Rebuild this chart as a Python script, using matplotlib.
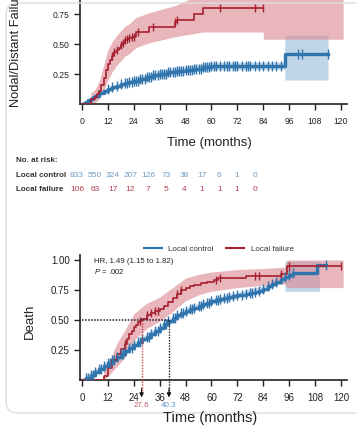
import numpy as np
import matplotlib
matplotlib.use("Agg")
from matplotlib import pyplot as plt
from matplotlib.patches import FancyBboxPatch

plt.rcParams['font.family'] = ['Liberation Sans', 'DejaVu Sans']
plt.rcParams['mathtext.fontset'] = 'custom'
plt.rcParams['mathtext.it'] = 'Liberation Sans:italic'
plt.rcParams['mathtext.rm'] = 'Liberation Sans'

BLUE = '#3175ae'
RED = '#a51f30'
BLUE_BAND = '#9ebfdb'
RED_BAND = '#dc8f97'

# ---- top panel: nodal / distant failure ----
lc_nd_t = [0, 1, 2, 3, 4, 5, 6, 8, 10, 12, 14, 16, 18, 20, 22, 24, 27, 30, 33, 36,
           40, 44, 48, 52, 56, 60, 94, 114]
lc_nd_v = [0, 0.01, 0.02, 0.03, 0.045, 0.06, 0.07, 0.09, 0.11, 0.125, 0.14, 0.15, 0.165,
           0.175, 0.185, 0.195, 0.21, 0.225, 0.24, 0.25, 0.265, 0.275, 0.285, 0.295,
           0.305, 0.315, 0.415, 0.415]
lc_nd_ci_t = [0, 6, 12, 24, 36, 48, 60, 94, 94, 114]
lc_nd_lo = [0, 0.055, 0.105, 0.175, 0.225, 0.26, 0.285, 0.29, 0.20, 0.20]
lc_nd_hi = [0.01, 0.085, 0.145, 0.215, 0.275, 0.31, 0.345, 0.35, 0.57, 0.57]
lc_nd_cens = [12, 14, 16, 18, 20, 21, 22, 23, 24, 25, 26, 27, 28, 29, 30, 31, 32, 33, 34,
              35, 36, 37, 38, 39, 40, 41, 42, 43, 44, 45, 46, 47, 48, 49, 50, 51, 52, 53,
              54, 55, 56, 57, 58, 59, 60, 61, 62, 64, 66, 67, 68, 70, 71, 72, 74, 76, 77,
              78, 80, 82, 84, 86, 88, 90, 92, 100, 102, 114]

lf_nd_t = [0, 4, 6, 7, 8, 9, 10, 11, 12, 13, 14, 15, 16, 17, 18, 19, 20, 21, 22, 23, 25,
           31, 43, 44, 52, 56, 84]
lf_nd_v = [0, 0.04, 0.06, 0.08, 0.11, 0.16, 0.22, 0.28, 0.33, 0.37, 0.40, 0.43, 0.45,
           0.47, 0.49, 0.51, 0.53, 0.54, 0.55, 0.56, 0.60, 0.64, 0.68, 0.70, 0.75, 0.80, 0.80]
lf_nd_ci_t = [4, 6, 8, 10, 12, 14, 16, 18, 20, 22, 25, 31, 43, 56, 84, 84, 121]
lf_nd_lo = [0, 0.01, 0.04, 0.11, 0.2, 0.27, 0.32, 0.36, 0.40, 0.42, 0.47, 0.51, 0.56,
            0.60, 0.60, 0.54, 0.54]
lf_nd_hi = [0.09, 0.12, 0.19, 0.32, 0.45, 0.52, 0.57, 0.61, 0.65, 0.67, 0.72, 0.76, 0.82,
            0.92, 0.95, 0.95, 0.95]
lf_nd_cens = [14, 15, 16, 18, 19, 20, 21, 22, 23, 24, 26, 33, 43, 44, 64, 80, 84]

# ---- bottom panel: death ----
lc_d_t = [0, 2, 4, 6, 8, 10, 12, 14, 16, 18, 20, 22, 24, 26, 28, 30, 32, 34, 36, 38, 40,
          42, 44, 46, 48, 50, 52, 54, 56, 58, 60, 62, 64, 66, 68, 70, 72, 74, 76, 78, 80,
          82, 84, 86, 88, 90, 92, 94, 96, 98, 109, 113]
lc_d_v = [0, 0.02, 0.045, 0.07, 0.095, 0.12, 0.145, 0.17, 0.195, 0.22, 0.245, 0.27, 0.29,
          0.315, 0.34, 0.36, 0.385, 0.41, 0.43, 0.465, 0.495, 0.52, 0.54, 0.56, 0.575,
          0.59, 0.60, 0.615, 0.63, 0.645, 0.655, 0.665, 0.675, 0.685, 0.69, 0.70, 0.705,
          0.71, 0.715, 0.725, 0.735, 0.745, 0.76, 0.78, 0.80, 0.82, 0.84, 0.86, 0.875,
          0.89, 0.96, 0.96]
lc_d_ci_t = [0, 12, 24, 36, 48, 60, 72, 84, 94, 94, 110]
lc_d_lo = [0, 0.125, 0.265, 0.405, 0.55, 0.63, 0.68, 0.735, 0.83, 0.74, 0.74]
lc_d_hi = [0.01, 0.165, 0.315, 0.455, 0.60, 0.68, 0.73, 0.785, 0.89, 0.99, 0.99]
lc_d_cens = [2, 3, 4, 5, 6, 8, 9, 10, 12, 13, 14, 15, 16, 18, 19, 20, 22, 23, 24, 26, 27,
             28, 30, 31, 32, 34, 35, 36, 38, 39, 40, 42, 43, 44, 46, 47, 48, 50, 51, 52,
             54, 55, 56, 58, 59, 60, 62, 63, 64, 66, 67, 68, 70, 72, 74, 76, 78, 79, 80,
             82, 84, 86, 88, 90, 92, 94, 96, 98, 113]

lf_d_t = [0, 10, 12, 14, 16, 18, 20, 21, 22, 23, 24, 25, 26, 27, 28, 30, 32, 34, 36, 38,
          40, 42, 44, 46, 48, 50, 52, 55, 58, 61, 63, 76, 92, 95, 120]
lf_d_v = [0, 0.03, 0.10, 0.17, 0.22, 0.26, 0.30, 0.34, 0.38, 0.41, 0.44, 0.46, 0.48, 0.49,
          0.51, 0.54, 0.56, 0.575, 0.59, 0.62, 0.65, 0.68, 0.72, 0.75, 0.77, 0.78, 0.79,
          0.81, 0.82, 0.835, 0.85, 0.865, 0.88, 0.95, 0.95]
lf_d_ci_t = [10, 13, 16, 20, 24, 30, 36, 42, 48, 54, 60, 72, 84, 94, 95, 121]
lf_d_lo = [0, 0.05, 0.11, 0.19, 0.33, 0.43, 0.49, 0.57, 0.66, 0.71, 0.74, 0.77, 0.79,
           0.80, 0.77, 0.77]
lf_d_hi = [0.08, 0.17, 0.30, 0.42, 0.55, 0.64, 0.69, 0.77, 0.85, 0.88, 0.90, 0.92, 0.93,
           0.94, 1.0, 1.0]
lf_d_cens = [20, 27, 30, 32, 34, 35, 44, 46, 62, 64, 80, 82, 92, 96, 120]

months = list(range(0, 121, 12))
at_risk_lc = [833, 550, 324, 207, 126, 73, 38, 17, 6, 1, 0]
at_risk_lf = [106, 63, 17, 12, 7, 5, 4, 1, 1, 1, 0]
median_lf = 27.6
median_lc = 40.3

W, H = 356, 426
fig = plt.figure(figsize=(W / 100, H / 100), dpi=100)


def step_at(t, v, x):
    idx = np.searchsorted(t, x, side='right') - 1
    return np.asarray(v)[np.clip(idx, 0, len(v) - 1)]


def km(ax, t, v, ci_t, lo, hi, cens, color, band, ms, lw):
    ax.fill_between(ci_t, lo, hi, color=band, alpha=0.65, lw=0, zorder=1)
    ax.step(t, v, where='post', color=color, lw=lw, zorder=3)
    ax.plot(cens, step_at(t, v, cens), ls='none', marker='|', ms=ms, mew=1.0,
            color=color, zorder=4)


def style(ax, labelsize):
    for s in ['top', 'right']:
        ax.spines[s].set_visible(False)
    for s in ['left', 'bottom']:
        ax.spines[s].set_linewidth(1.2)
        ax.spines[s].set_color('#222222')
    ax.tick_params(direction='out', length=4.5, width=1, labelsize=labelsize, pad=5,
                   colors='#222222')
    ax.tick_params(axis='y', pad=3)
    ax.set_xticks(months)
    ax.set_xlim(-0.93, 122.8)


# top axes
ax1 = fig.add_axes([80 / W, 1 - 104 / H, 267 / W, 104 / H])
km(ax1, lc_nd_t, lc_nd_v, lc_nd_ci_t, lc_nd_lo, lc_nd_hi, lc_nd_cens, BLUE, BLUE_BAND, 7, 2.4)
km(ax1, lf_nd_t, lf_nd_v, lf_nd_ci_t, lf_nd_lo, lf_nd_hi, lf_nd_cens, RED, RED_BAND, 6, 1.2)
ax1.set_ylim(0, 104 / 120)
ax1.set_yticks([0.25, 0.5, 0.75])
ax1.set_yticklabels(['0.25', '0.50', '0.75'])
style(ax1, 6.2)

fig.text(16 / W, 1 - 107 / H, 'Nodal/Distant Failure', rotation=90, rotation_mode='anchor',
         ha='left', va='center', fontsize=9.3, color='#222222')
fig.text(209 / W, 1 - 143 / H, 'Time (months)', ha='center', va='center', fontsize=9.5,
         color='#222222')

# at-risk table
fig.text(16 / W, 1 - 160 / H, 'No. at risk:', fontsize=5.8, fontweight='bold',
         color='#333333', va='center')
fig.text(16 / W, 1 - 175 / H, 'Local control', fontsize=5.8, fontweight='bold',
         color='#333333', va='center')
fig.text(16 / W, 1 - 189 / H, 'Local failure', fontsize=5.8, fontweight='bold',
         color='#333333', va='center')
for i, (a, b) in enumerate(zip(at_risk_lc, at_risk_lf)):
    x = (77 + i * 17.8) / W
    fig.text(x, 1 - 175 / H, str(a), fontsize=6, color='#6f9cc4', ha='center', va='center')
    fig.text(x, 1 - 189 / H, str(b), fontsize=6, color='#b04050', ha='center', va='center')

# bottom axes
ax2 = fig.add_axes([80 / W, 1 - 380 / H, 267 / W, 125 / H])
km(ax2, lc_d_t, lc_d_v, lc_d_ci_t, lc_d_lo, lc_d_hi, lc_d_cens, BLUE, BLUE_BAND, 7, 2.4)
km(ax2, lf_d_t, lf_d_v, lf_d_ci_t, lf_d_lo, lf_d_hi, lf_d_cens, RED, RED_BAND, 6, 1.2)
ax2.set_ylim(0, 125 / 120)
ax2.set_yticks([0.25, 0.5, 0.75, 1.0])
ax2.set_yticklabels(['0.25', '0.50', '0.75', '1.00'])
style(ax2, 7)

ax2.plot([], [], color=BLUE, lw=1.5, label='Local control')
ax2.plot([], [], color=RED, lw=1.5, label='Local failure')
h, l = ax2.get_legend_handles_labels()
ax2.legend(h[-2:], l[-2:], loc='lower center', bbox_to_anchor=(0.52, 0.99), ncol=2,
           frameon=False, fontsize=5.8, handlelength=2.2, columnspacing=1.6,
           borderaxespad=0, labelcolor='#333333')

ax2.text(5.5, 0.985, 'HR, 1.49 (1.15 to 1.82)', fontsize=5.6, va='center', color='#222222')
ax2.text(5.5, 0.905, '$P$ = .002', fontsize=5.6, va='center', color='#222222')

# medians
ax2.plot([0, median_lc], [0.5, 0.5], ls=(0, (1, 1)), color='#1a1a2e', lw=1.1, zorder=5)
ax2.plot([median_lf, median_lf], [0.5, -0.09], ls=(0, (1, 1)), color='#d04040', lw=1.0,
         zorder=5, clip_on=False)
ax2.plot([median_lc, median_lc], [0.5, -0.09], ls=(0, (1, 1)), color='#1a1a2e', lw=1.0,
         zorder=5, clip_on=False)
for m in [median_lf, median_lc]:
    ax2.annotate('', xy=(m, -0.145), xytext=(m, -0.07), annotation_clip=False,
                 arrowprops=dict(arrowstyle='-|>', color='#111111', lw=0.8,
                                 mutation_scale=6, shrinkA=0, shrinkB=0))
ax2.text(median_lf, -0.21, '27.6', fontsize=5.8, color='#c05868', ha='center', va='center')
ax2.text(median_lc, -0.21, '40.3', fontsize=5.8, color='#5a92c2', ha='center', va='center')

fig.text(30 / W, 1 - 321 / H, 'Death', rotation=90, ha='center', va='center',
         fontsize=9.5, color='#222222')
fig.text(210 / W, 1 - 418 / H, 'Time (months)', ha='center', va='center', fontsize=10.5,
         color='#222222')

# card outline
card = FancyBboxPatch((6 / W, 13 / H), 1.2, 410 / H,
                      boxstyle='round,pad=0,rounding_size=%f' % (12 / W),
                      transform=fig.transFigure, fill=False, ec='#dddddd', lw=1.0,
                      mutation_aspect=W / H)
fig.patches.append(card)

fig.savefig('out.png', dpi=100)
